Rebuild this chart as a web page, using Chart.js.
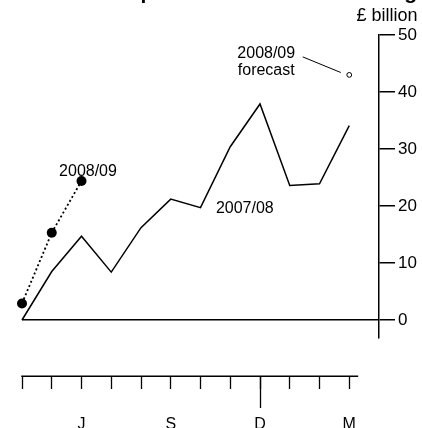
<!DOCTYPE html>
<html><head><meta charset="utf-8">
<script src="https://cdn.jsdelivr.net/npm/chart.js@4"></script>
<style>html,body{margin:0;padding:0;background:#fff}canvas{display:block}</style>
</head><body>
<canvas id="c" width="422" height="428"></canvas>
<script>
// ---- data ----
const months = ['A','M','J','J','A','S','O','N','D','J','F','M'];
const monthTickLabels = ['', '', 'J', '', '', 'S', '', '', 'D', '', '', 'M'];
const borrowing0708 = [0, 8.5, 14.7, 8.4, 16.2, 21.2, 19.7, 30.4, 37.9, 23.6, 23.9, 34.1];
const borrowing0809 = [2.9, 15.3, 24.4];
const forecast0809 = 43.0;
const forecastMonth = 11;
const yTicks = [0, 10, 20, 30, 40, 50];
const longTickMonths = [8];
const titleText = 'Cumulative public sector net borrowing';
const unitText = '£ billion';
const label0809 = '2008/09';
const label0708 = '2007/08';
const forecastLabel = ['2008/09', 'forecast'];

const FONT = '"Liberation Sans", Arial, Helvetica, sans-serif';
const AXIS_Y = -9.82;      // where the month axis sits, in y units
const AXIS_X_END = 11.3;   // month axis line end, in x units
const toXY = arr => arr.map((v, i) => ({x: i, y: v}));

const annotations = {
  id: 'annotations',
  afterDraw(chart) {
    const {ctx, scales: {x, y}} = chart;
    ctx.save();
    ctx.fillStyle = '#000';
    ctx.strokeStyle = '#000';

    // month axis line
    const ay = Math.round(y.getPixelForValue(AXIS_Y)) + 0.25;
    ctx.lineWidth = 1.5;
    ctx.beginPath();
    ctx.moveTo(x.getPixelForValue(0) - 0.75, ay);
    ctx.lineTo(x.getPixelForValue(AXIS_X_END), ay);
    ctx.stroke();

    ctx.font = 'bold 21px ' + FONT;
    ctx.textAlign = 'right'; ctx.textBaseline = 'alphabetic';
    ctx.fillText(titleText, 417, -1);
    ctx.font = '18px ' + FONT;
    ctx.fillText(unitText, 417.5, 21);

    ctx.font = '16px ' + FONT;
    ctx.textAlign = 'center'; ctx.textBaseline = 'middle';
    const last = borrowing0809.length - 1;
    ctx.fillText(label0809, x.getPixelForValue(last) + 6.5, y.getPixelForValue(borrowing0809[last]) - 9.5);
    ctx.fillText(label0708, x.getPixelForValue(7.49), y.getPixelForValue(19.6));

    const fx = x.getPixelForValue(forecastMonth), fy = y.getPixelForValue(forecast0809);
    ctx.fillText(forecastLabel[0], fx - 83, fy - 21.5);
    ctx.fillText(forecastLabel[1], fx - 83, fy - 4.5);
    ctx.lineWidth = 1;
    ctx.beginPath();
    ctx.moveTo(fx - 46.5, fy - 18);
    ctx.lineTo(fx - 8.5, fy - 2.4);
    ctx.stroke();
    ctx.restore();
  }
};

const monthAxisBase = {
  type: 'linear', axis: 'x',
  position: {y: AXIS_Y},
  min: 0, max: 12,
  border: {display: false}
};

new Chart(document.getElementById('c'), {
  type: 'line',
  data: {
    datasets: [
      {
        label: label0708,
        data: toXY(borrowing0708),
        borderColor: '#000', borderWidth: 1.5,
        pointRadius: 0, tension: 0, clip: false
      },
      {
        label: label0809,
        data: toXY(borrowing0809),
        borderColor: '#000', borderWidth: 1.8, borderDash: [2, 2.5],
        pointRadius: 5, pointBackgroundColor: '#000', pointBorderColor: '#000', pointBorderWidth: 0,
        tension: 0, clip: false
      },
      {
        label: forecastLabel.join(' '),
        data: [{x: forecastMonth, y: forecast0809}],
        showLine: false,
        pointRadius: 2.4, pointBackgroundColor: '#fff', pointBorderColor: '#000', pointBorderWidth: 1,
        clip: false
      }
    ]
  },
  options: {
    responsive: false,
    animation: false,
    devicePixelRatio: 1,
    layout: {padding: {left: 22, right: 0, top: 35, bottom: 90}},
    plugins: {legend: {display: false}, tooltip: {enabled: false}, title: {display: false}},
    scales: {
      y: {
        position: 'right',
        min: -3.16, max: 50,
        afterBuildTicks: s => { s.ticks = yTicks.map(v => ({value: v})); },
        afterFit: s => { s.width = 43; },
        border: {display: true, color: '#000', width: 1.5},
        grid: {
          color: c => (c.tick && c.tick.value === 0) ? '#000' : 'rgba(0,0,0,0)',
          lineWidth: 1.5,
          tickColor: '#000', tickWidth: 1.5, tickLength: 16
        },
        ticks: {
          color: '#000', padding: 3,
          font: {family: FONT, size: 17},
          callback: v => String(v)
        }
      },
      // month axis: labels (its own tick marks are invisible spacers)
      x: Object.assign({}, monthAxisBase, {
        afterBuildTicks: s => { s.ticks = months.map((m, i) => ({value: i})); },
        grid: {drawOnChartArea: false, tickColor: 'rgba(0,0,0,0)', tickLength: 39, color: 'rgba(0,0,0,0)'},
        ticks: {
          color: '#000', padding: 0, maxRotation: 0, autoSkip: false,
          font: {family: FONT, size: 16},
          callback: v => monthTickLabels[v] || ''
        }
      }),
      // month axis: short tick marks
      x2: Object.assign({}, monthAxisBase, {
        afterBuildTicks: s => { s.ticks = months.map((m, i) => ({value: i})); },
        grid: {drawOnChartArea: false, tickColor: '#000', tickWidth: 1.3, tickLength: 13, color: '#000'},
        ticks: {display: false}
      }),
      // month axis: long tick (December)
      x3: Object.assign({}, monthAxisBase, {
        afterBuildTicks: s => { s.ticks = longTickMonths.map(v => ({value: v})); },
        grid: {drawOnChartArea: false, tickColor: '#000', tickWidth: 1.3, tickLength: 32, color: '#000'},
        ticks: {display: false}
      })
    }
  },
  plugins: [annotations]
});
</script>
</body></html>
